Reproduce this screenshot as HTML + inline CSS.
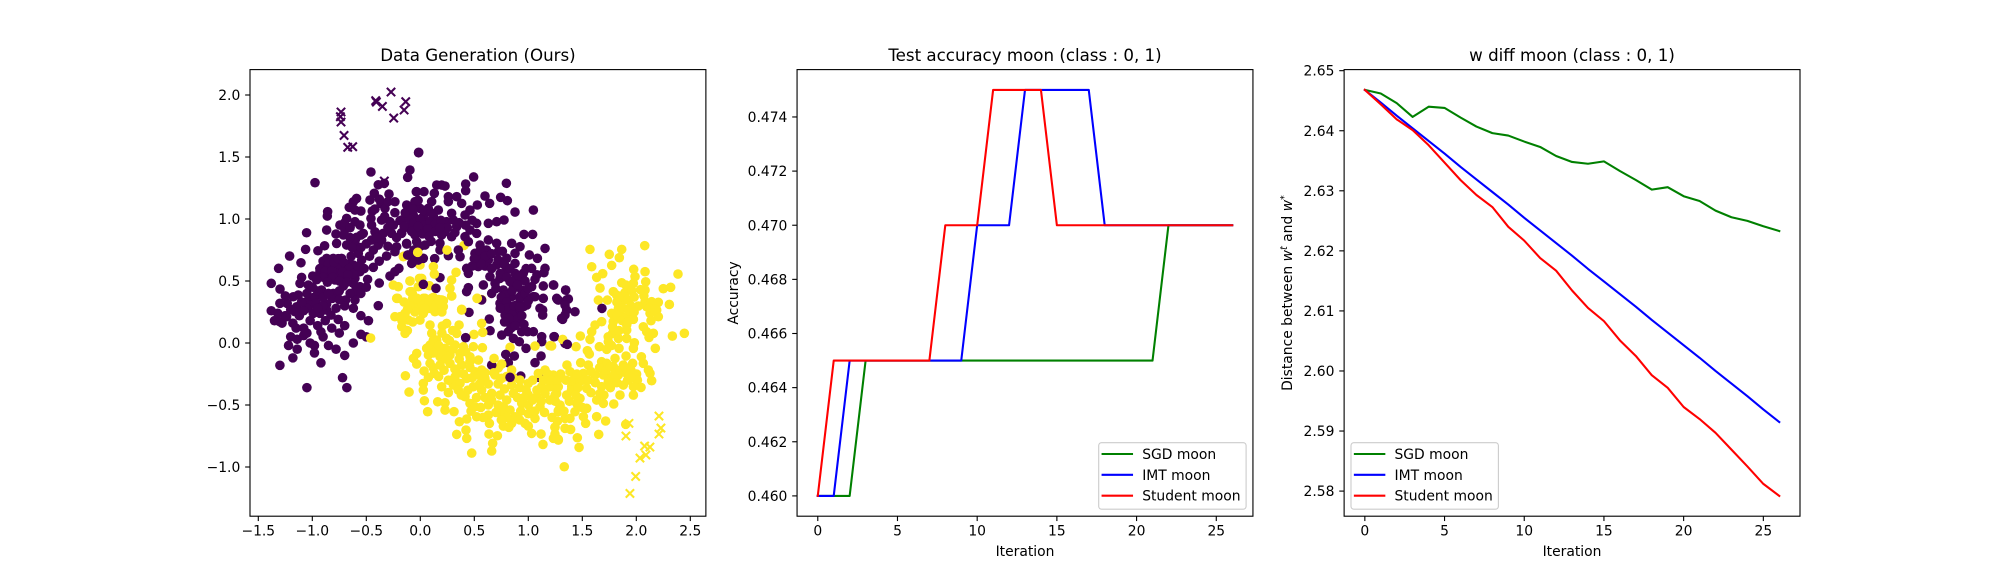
<!DOCTYPE html>
<html>
<head>
<meta charset="utf-8">
<title>Moon data charts</title>
<style>
html,body{margin:0;padding:0;background:#fff;}
svg{display:block;}
text{font-family:"DejaVu Sans",sans-serif;fill:#000;}
</style>
</head>
<body>
<svg id="figure" xmlns="http://www.w3.org/2000/svg" width="2000" height="580" viewBox="0 0 2000 580"></svg>
<script>
/* ---------- chart data ---------- */
const iterations = [0,1,2,3,4,5,6,7,8,9,10,11,12,13,14,15,16,17,18,19,20,21,22,23,24,25,26];

const accSgd = [0.46,0.46,0.46,0.465,0.465,0.465,0.465,0.465,0.465,0.465,0.465,0.465,0.465,0.465,0.465,0.465,0.465,0.465,0.465,0.465,0.465,0.465,0.47,0.47,0.47,0.47,0.47];
const accImt = [0.46,0.46,0.465,0.465,0.465,0.465,0.465,0.465,0.465,0.465,0.47,0.47,0.47,0.475,0.475,0.475,0.475,0.475,0.47,0.47,0.47,0.47,0.47,0.47,0.47,0.47,0.47];
const accStudent = [0.46,0.465,0.465,0.465,0.465,0.465,0.465,0.465,0.47,0.47,0.47,0.475,0.475,0.475,0.475,0.47,0.47,0.47,0.47,0.47,0.47,0.47,0.47,0.47,0.47,0.47,0.47];

const diffSgd = [2.6468,2.6462,2.6446,2.6423,2.6440,2.6438,2.6422,2.6407,2.6396,2.6392,2.6382,2.6373,2.6358,2.6348,2.6345,2.6349,2.6333,2.6318,2.6302,2.6306,2.6291,2.6283,2.6267,2.6256,2.6250,2.6241,2.6233];
const diffImt = [2.6468,2.6447,2.6425,2.6404,2.6383,2.6362,2.6340,2.6319,2.6298,2.6277,2.6255,2.6234,2.6213,2.6192,2.6170,2.6149,2.6128,2.6107,2.6085,2.6064,2.6043,2.6022,2.6000,2.5979,2.5958,2.5936,2.5915];
const diffStudent = [2.6468,2.6444,2.6419,2.6401,2.6376,2.6347,2.6318,2.6293,2.6273,2.6240,2.6217,2.6188,2.6167,2.6134,2.6105,2.6083,2.6051,2.6025,2.5993,2.5972,2.5940,2.5920,2.5897,2.5869,2.5841,2.5812,2.5792];

const scatterXTicks = [-1.5,-1.0,-0.5,0.0,0.5,1.0,1.5,2.0,2.5];
const scatterYTicks = [-1.0,-0.5,0.0,0.5,1.0,1.5,2.0];
const iterTicks = [0,5,10,15,20,25];
const accTicks = [0.460,0.462,0.464,0.466,0.468,0.470,0.472,0.474];
const diffTicks = [2.58,2.59,2.60,2.61,2.62,2.63,2.64,2.65];

const legendLabels = ["SGD moon","IMT moon","Student moon"];

const yellowBehind = [[0.405,0.787],[-0.157,0.696],[-0.151,0.7],[-0.003,0.629],[0.084,0.462],[0.568,0.35],[0.723,-0.2]];

const purpleDots = [
[-0.975,1.293],[-0.457,1.379],[-0.096,1.395],[-0.117,1.336],[-0.016,1.534],[-0.389,1.276],[-0.333,1.287],[-0.290,1.201],[-0.426,1.207],[-0.466,1.153],[-0.364,1.126],[-0.235,1.139],[-0.590,1.166],[-0.620,1.139],[-0.658,1.094],[-0.858,1.059],[-0.861,1.024],[-0.550,1.064],[-0.605,1.072],[-0.445,1.064],[-0.327,1.086],[-0.235,1.051],[-0.457,1.005],[-0.188,0.986],
[-0.682,1.005],[-0.605,0.978],[-0.744,0.951],[-0.698,0.911],[-0.559,0.951],[-0.528,0.884],[-0.781,0.879],[-0.713,0.871],[-0.590,0.852],[-0.605,0.817],[-0.775,0.803],[-0.682,0.790],[-0.867,0.911],[-1.053,0.889],[-0.886,0.784],[-0.948,0.744],[-1.062,0.755],[-1.210,0.701],[-1.105,0.647],[-1.312,0.602],[-1.380,0.481],[-1.299,0.435],[-0.435,0.610],[-0.559,0.575],[-0.488,0.513],[-0.380,0.483],[-0.389,0.301],[-0.281,0.540],[-0.235,0.575],[-0.198,0.602],[-0.312,0.701],[-0.435,0.750],[-0.389,0.790],[-0.358,0.830],[-0.451,0.830],[-0.420,0.897],[-0.343,0.884],[-0.266,0.884],[-0.281,0.978],[-0.358,0.991],[-0.451,0.951],[-0.173,0.884],[-0.219,0.776],[-0.235,0.736],[-0.127,0.803],[-0.117,0.709],[-0.080,0.642],[-0.019,0.669],[-0.111,0.938],[-0.080,1.099],[-0.034,1.220],
[-0.867,0.682],[-0.806,0.682],[-0.729,0.682],[-0.651,0.642],[-0.574,0.723],[-0.543,0.669],[-0.898,0.629],[-0.836,0.615],[-0.759,0.629],[-0.682,0.602],[-0.929,0.575],[-0.852,0.548],[-0.775,0.561],[-0.698,0.534],[-0.620,0.629],[-0.605,0.521],[-0.790,0.508],[-0.713,0.459],[-0.996,0.540],[-1.099,0.529],[-1.114,0.481],[-1.037,0.467],[-0.914,0.427],[-0.620,0.481],[-0.559,0.454],[-0.605,0.414],[-0.806,0.400],[-0.815,0.360],[-0.692,0.346],[-0.605,0.346],[-1.130,0.387],[-1.176,0.373],[-1.232,0.319],[-1.145,0.292],[-1.161,0.252],[-1.037,0.346],[-0.975,0.373],[-1.022,0.306],[-0.960,0.319],[-0.867,0.314],[-0.867,0.266],[-0.991,0.239],[-0.929,0.239],[-0.827,0.225],[-1.238,0.212],[-1.300,0.172],
[-1.35,0.18],[-1.28,0.16],[-1.25,0.22],[-1.18,0.16],[-1.12,0.22],[-1.08,0.12],[-1.02,0.18],[-0.95,0.14],[-0.88,0.18],[-0.82,0.12],[-0.76,0.19],[-0.7,0.14],[-1.2,0.05],[-1.14,0.03],[-1.08,0.06],[-1.02,0.0],[-1.14,-0.05],[-1.22,-0.02],[-0.9,0.05],[-0.85,-0.02],[-0.75,0.08],[-0.78,-0.05],[-1.18,-0.12],[-0.98,-0.08],[-0.92,-0.16],[-0.7,-0.1],[-0.72,-0.28],[-0.68,-0.36],[-1.3,-0.18],[-1.05,-0.36],[-0.55,0.07],[-0.5,0.05],[-0.62,0.0],[-0.62,0.28],[-0.55,0.22],[-0.48,0.18],[-1.05,0.28],[-0.9,0.3],[-0.78,0.28],[-0.98,-0.02],[-1.3,0.32],[-1.38,0.26],
[-0.015,1.538],[0.494,1.339],[0.797,1.288],[0.198,1.274],[0.152,1.274],[0.229,1.266],[0.420,1.282],[0.420,1.228],[-0.037,1.220],[0.034,1.220],[0.130,1.207],[0.599,1.185],[0.642,1.126],[0.744,1.175],[0.806,1.148],[0.877,1.056],[1.047,1.072],[0.260,1.180],[0.337,1.180],[0.260,1.140],[0.383,1.126],[0.528,1.113],[0.460,1.072],[-0.126,1.113],[-0.049,1.140],[0.105,1.140],[-0.111,1.059],[-0.003,1.086],[0.074,1.086],[0.167,1.072],[-0.065,1.032],[0.028,1.019],[0.121,1.019],[0.290,1.046],[0.414,1.032],[-0.173,0.992],[-0.034,0.978],[0.059,0.965],[0.244,0.978],[0.306,0.992],[0.522,0.965],[0.630,0.965],[0.707,0.978],[0.775,0.992],[-0.111,0.933],[-0.003,0.911],[0.121,0.925],[0.229,0.898],[0.337,0.938],[0.460,0.911],[0.522,0.884],[-0.173,0.890],[-0.049,0.871],[0.198,0.871],[0.290,0.857],[0.414,0.857],[-0.126,0.798],[-0.034,0.817],[0.044,0.790],[0.182,0.804],[0.445,0.817],[0.960,0.876],[1.040,0.876],[0.630,0.831],[0.553,0.790],[0.707,0.804],[0.846,0.804],[0.923,0.777],[1.155,0.763],[-0.111,0.710],[-0.034,0.696],[0.028,0.683],[-0.074,0.648],[0.182,0.750],[0.260,0.704],[0.133,0.680],[0.352,0.750],[0.368,0.696],[0.506,0.723],[0.614,0.750],[0.722,0.737],[0.877,0.723],[1.010,0.710],[1.084,0.683],[0.429,0.602],[0.445,0.562],[0.553,0.696],[0.537,0.616],[0.630,0.669],[0.707,0.629],[0.800,0.683],[0.877,0.642],[1.031,0.602],[1.155,0.602],[1.145,0.567],[0.954,0.562],[0.877,0.562],[0.800,0.589],[0.645,0.535],[0.738,0.521],[1.062,0.513],[0.584,0.468],[0.692,0.481],[0.831,0.495],[0.923,0.508],[0.182,0.527],[0.145,0.441],[0.445,0.446],[0.429,0.414],[0.661,0.400],[0.769,0.427],[0.861,0.441],[0.938,0.427],[1.031,0.454],[1.139,0.460],[1.232,0.468],[1.346,0.427],[0.738,0.320],[0.846,0.374],[0.923,0.360],[1.047,0.374],[1.139,0.360],[1.263,0.360],[1.355,0.347],[0.892,0.306],[0.985,0.306],[1.108,0.280],[0.568,0.347],
[0.785,0.387],[0.923,0.373],[1.062,0.373],[1.278,0.346],[0.451,0.247],[0.639,0.193],[0.646,0.099],[0.754,0.064],[0.785,0.225],[0.831,0.266],[0.877,0.212],[0.831,0.158],[0.908,0.252],[0.954,0.293],[0.815,0.091],[0.862,0.037],[0.917,0.010],[0.979,-0.043],[0.939,0.091],[0.994,0.091],[1.047,0.091],[1.124,0.051],[1.124,0.010],[1.241,0.051],[1.133,0.266],[1.133,0.225],[1.309,0.198],[1.340,-0.003],[1.118,-0.105],[1.062,-0.159],[0.815,-0.159],[0.930,-0.267],[1.099,-0.277],[0.661,-0.178],
[1.235,0.467],[1.346,0.427],[1.269,0.352],[1.371,0.355],[1.340,0.306],[1.355,0.266],[1.432,0.252],[1.340,0.226],[1.318,0.191]
];

const purpleDense = [
[-0.9,0.66],[-0.85,0.64],[-0.8,0.65],[-0.76,0.68],[-0.71,0.65],[-0.66,0.6],[-0.62,0.56],[-0.93,0.6],[-0.88,0.58],[-0.82,0.58],[-0.72,0.57],[-0.67,0.55],[-0.9,0.53],[-0.81,0.53],[-0.75,0.5],[-0.68,0.49],[-0.96,0.51],[-0.86,0.49],[-0.58,0.62],[-0.64,0.7],[-0.52,0.6],
[-0.1,1.0],[-0.06,0.97],[0.0,1.0],[0.04,0.95],[0.09,0.98],[0.14,0.96],[-0.08,0.9],[-0.02,0.94],[0.02,0.88],[0.07,0.92],[-0.14,1.05],[-0.07,1.08],[0.03,1.07],[0.1,1.05],[0.19,0.99],[0.25,0.93],[0.32,0.89],[0.36,0.97],[0.42,0.95],[0.48,0.99],[-0.02,1.15],[0.08,0.86],[0.14,0.9],[0.18,0.93],[-0.15,0.94],[0.0,0.78],[-0.06,0.75],[0.1,0.82],
[0.55,0.74],[0.6,0.7],[0.66,0.72],[0.6,0.62],[0.66,0.6],[0.72,0.67],[0.78,0.63],[0.83,0.6],[0.74,0.56],[0.8,0.53],[0.86,0.5],[0.91,0.54],[0.97,0.5],[0.7,0.44],[0.75,0.37],[0.8,0.33],[0.85,0.42],[0.97,0.4],[1.0,0.44],[0.56,0.64],[0.5,0.68],[0.76,0.74],[0.98,0.6],[1.08,0.55],[0.48,0.62],[0.9,0.47],[1.0,0.34],
[0.8,0.28],[0.85,0.23],[0.9,0.19],[0.82,0.2],[0.87,0.3],[0.92,0.29],[0.78,0.17],[0.84,0.12],[0.88,0.14],[0.94,0.22],[0.74,0.28],[0.96,0.15],
[-0.7,0.97],[-0.65,0.93],[-0.65,0.85],[-0.55,0.87],[-0.5,0.8],[-0.63,0.77],[-0.55,0.77],[-0.4,0.85],[-0.3,0.93],[-0.25,0.95],[-0.33,1.02],[-0.42,1.08],[-0.38,1.16],[-0.3,1.14],[-0.47,0.7],[-0.38,0.66],[-0.3,0.78],[-0.22,0.85],
[-1.1,0.33],[-1.05,0.4],[-0.95,0.42],[-0.9,0.37],[-1.08,0.26],[-0.95,0.28],[-0.85,0.4],[-0.75,0.42],[-0.65,0.4],[-0.7,0.3],[-1.2,0.27],[-1.15,0.12],[-1.05,0.08],[-0.92,0.09],[-0.75,0.35],[-0.55,0.4],[-0.5,0.45],[-1.0,0.45],[-1.25,0.38],[-1.32,0.24]
];

const yellowDots = [
[1.571,0.755],[1.750,0.715],[1.865,0.755],[1.843,0.688],[2.078,0.785],[1.587,0.615],[1.772,0.626],[1.633,0.529],[1.689,0.559],[1.976,0.594],[2.081,0.575],[1.988,0.535],[2.386,0.556],[1.865,0.486],[2.087,0.494],[1.973,0.481],[1.905,0.467],[1.664,0.443],[2.081,0.427],[2.250,0.438],[2.318,0.449],[1.787,0.414],[1.895,0.406],[1.818,0.387],[1.649,0.346],[1.732,0.346],[1.865,0.333],[2.081,0.333],[2.142,0.333],[2.204,0.328],[2.306,0.311],[2.019,0.298],[2.096,0.293],[1.834,0.279],[2.189,0.266],[1.772,0.239],[1.849,0.226],[1.911,0.212],[1.973,0.191],[2.127,0.239],[2.204,0.212],[2.136,0.180],[1.679,0.172],[1.618,0.145],[1.787,0.172],[1.911,0.145],[2.065,0.131],[1.587,0.091],[1.911,0.104],[2.096,0.091],[2.158,0.078],[2.118,0.045],[1.571,0.029],[1.911,0.037],[2.334,0.056],[2.445,0.078],[1.781,0.078],[1.834,0.037],[1.741,0.010],[1.482,0.056],[1.318,0.029],[1.658,-0.030],[1.442,-0.030],[1.216,-0.024],[1.726,-0.051],[1.840,-0.043],[1.982,0.002],[1.973,-0.043],[2.176,-0.043],[1.547,-0.062],[1.565,-0.089],[2.047,-0.111],[1.905,-0.105],[1.679,-0.151],[1.726,-0.164],[1.803,-0.124],[2.065,-0.164],[1.358,-0.178],[1.485,-0.159],[1.556,-0.178],[1.966,-0.164],[1.880,-0.178],[1.787,-0.191],[2.127,-0.245],[2.112,-0.218],[2.142,-0.304],[1.386,-0.231],[1.510,-0.245],[1.618,-0.258],[1.695,-0.258],[1.772,-0.272],[1.834,-0.258],[1.911,-0.245],[2.003,-0.250],[1.232,-0.264],[1.417,-0.299],[1.479,-0.312],[1.741,-0.312],[2.010,-0.299],[1.679,-0.352],[1.880,-0.339],[2.044,-0.358],[1.973,-0.352],[1.232,-0.352],[1.402,-0.352],[1.541,-0.366],[1.664,-0.406],[1.849,-0.420],[1.973,-0.420],[1.263,-0.406],[1.355,-0.420],[1.479,-0.447],[1.633,-0.460],[1.791,-0.492],[1.695,-0.487],[1.294,-0.500],[1.448,-0.487],[1.541,-0.527],[1.278,-0.554],[1.432,-0.554],[1.510,-0.594],[1.633,-0.594],[1.340,-0.608],[1.386,-0.608],[1.716,-0.629],[1.531,-0.648],[1.902,-0.656],[1.247,-0.680],[1.340,-0.688],[1.392,-0.697],[1.652,-0.737],[1.247,-0.734],[1.278,-0.777],[1.454,-0.764],[1.470,-0.842],[1.333,-0.998],
[-0.074,0.400],[-0.209,0.360],[0.044,0.360],[0.121,0.368],[0.214,0.341],[0.183,0.293],[0.291,0.379],[0.528,0.360],[0.383,0.266],[-0.033,0.293],[0.075,0.279],[0.028,0.239],[0.136,0.252],[-0.141,0.239],[-0.188,0.212],[-0.111,0.185],[-0.003,0.185],[-0.172,0.131],[-0.141,0.078],[0.090,0.145],[0.244,0.158],[0.359,0.145],[0.204,0.137],[0.568,0.158],[0.497,0.069],[0.578,0.086],[0.106,0.078],[0.152,0.024],[0.244,0.037],[0.337,0.078],[0.322,-0.017],[0.059,-0.043],[-0.033,-0.084],[-0.064,-0.124],[-0.033,-0.170],[0.090,-0.017],[0.152,-0.057],[0.229,-0.043],[0.399,-0.030],[0.491,-0.030],[0.575,-0.038],[0.831,-0.035],[1.062,-0.025],[1.201,-0.022],[0.075,-0.097],[0.183,-0.111],[0.275,-0.097],[0.368,-0.084],[0.460,-0.111],[0.538,-0.138],[0.090,-0.164],[0.183,-0.178],[0.275,-0.164],[0.383,-0.178],[0.460,-0.197],[0.035,-0.226],[0.130,-0.245],[0.075,-0.277],[-0.138,-0.264],[-0.104,-0.396],[0.028,-0.326],[0.028,-0.380],[0.038,-0.466],[0.198,-0.353],[0.161,-0.474],[0.229,-0.482],[0.229,-0.541],[0.068,-0.554],[0.312,-0.554],[0.322,-0.272],[0.306,-0.339],[0.368,-0.326],[0.430,-0.285],[0.507,-0.232],[0.568,-0.218],[0.683,-0.124],[0.754,-0.170],[0.846,-0.218],[0.599,-0.285],[0.692,-0.258],[0.754,-0.285],[0.846,-0.339],[0.923,-0.299],[1.000,-0.326],[1.155,-0.218],[1.232,-0.258],[1.093,-0.245],[1.124,-0.353],[1.201,-0.353],[1.278,-0.353],[0.352,-0.380],[0.414,-0.433],[0.491,-0.353],[0.568,-0.380],[0.661,-0.406],[0.738,-0.420],[0.862,-0.406],[1.000,-0.420],[1.078,-0.433],[1.155,-0.406],[1.247,-0.420],[0.460,-0.487],[0.507,-0.514],[0.630,-0.500],[0.769,-0.514],[0.831,-0.541],[0.939,-0.487],[1.000,-0.500],[1.108,-0.514],[1.294,-0.514],[0.754,-0.568],[0.877,-0.595],[0.522,-0.595],[0.630,-0.581],[1.278,-0.546],[1.062,-0.608],[0.430,-0.613],[0.362,-0.635],[0.640,-0.648],[0.769,-0.670],[0.846,-0.648],[0.970,-0.648],[1.247,-0.680],[0.423,-0.702],[0.430,-0.769],[0.337,-0.737],[0.636,-0.734],[0.714,-0.748],[1.031,-0.729],[1.118,-0.734],[1.232,-0.769],[1.278,-0.783],[1.136,-0.818],[0.670,-0.809],[0.661,-0.871],[0.476,-0.888],
[-0.024,0.731],[0.247,0.750],[0.121,0.616],[0.130,0.556],[0.331,0.570],[0.290,0.508],[0.275,0.441],[0.290,0.379],[-0.095,0.500],[0.013,0.521],[-0.018,0.454],[-0.095,0.414],[-0.071,0.360],[0.028,0.360],[0.105,0.360],[0.198,0.347],[0.525,0.360],[0.383,0.272],[-0.003,0.293],[0.121,0.306],[0.213,0.293],[-0.065,0.293],[-0.250,0.467],[-0.204,0.454],[-0.096,0.500],[-0.219,0.360],[-0.080,0.414],[-0.008,0.521],[-0.065,0.346],[-0.142,0.239],[-0.235,0.212],[-0.050,0.279],[-0.46,0.04]
];

const yellowDense = [
[-0.15,0.33],[-0.1,0.3],[-0.05,0.25],[0.02,0.31],[0.08,0.33],[0.15,0.31],[0.12,0.27],[0.2,0.25],[-0.17,0.18],[-0.12,0.1],[-0.07,0.17],[0.04,0.28],[-0.03,0.36],[-0.12,0.27],[0.17,0.35],
[0.12,0.02],[0.17,-0.02],[0.2,0.08],[0.27,0.02],[0.3,0.1],[0.12,-0.08],[0.2,-0.09],[0.3,-0.05],[0.24,-0.13],[0.36,-0.13],[0.42,-0.07],[0.32,-0.21],[0.12,-0.2],[0.22,-0.22],[0.17,-0.27],[0.26,-0.3],[0.34,-0.24],[0.4,-0.25],[0.48,-0.28],[0.46,-0.15],[0.54,-0.26],[0.6,-0.24],[0.55,-0.33],[0.63,-0.33],[0.72,-0.33],[0.68,-0.24],[0.8,-0.27],[0.78,-0.37],[0.86,-0.28],[0.92,-0.36],[0.98,-0.38],[1.04,-0.3],[1.08,-0.38],[1.14,-0.3],[1.18,-0.25],[1.21,-0.3],[1.27,-0.3],[0.26,-0.4],[0.38,-0.42],[0.44,-0.38],[0.52,-0.44],[0.6,-0.44],[0.66,-0.46],[0.72,-0.5],[0.8,-0.46],[0.9,-0.44],[0.96,-0.44],[1.04,-0.46],[1.12,-0.47],[1.2,-0.46],[1.25,-0.47],[0.47,-0.55],[0.56,-0.52],[0.58,-0.6],[0.7,-0.56],[0.8,-0.6],[0.93,-0.55],[1.0,-0.57],[1.06,-0.55],[1.15,-0.56],[1.22,-0.6],[0.82,-0.68],[0.75,-0.62],[0.92,-0.62],[1.0,-0.67],[1.27,-0.63],
[1.3,-0.25],[1.35,-0.3],[1.4,-0.38],[1.46,-0.36],[1.5,-0.3],[1.55,-0.3],[1.58,-0.23],[1.62,-0.32],[1.66,-0.2],[1.72,-0.22],[1.76,-0.19],[1.8,-0.25],[1.85,-0.22],[1.9,-0.2],[1.95,-0.22],[1.45,-0.25],[1.38,-0.47],[1.44,-0.42],[1.5,-0.52],[1.33,-0.55],[1.58,-0.4],[1.7,-0.42],[1.76,-0.36],[1.82,-0.32],[1.92,-0.3],[1.95,-0.28],
[1.82,0.33],[1.87,0.38],[1.92,0.35],[1.95,0.3],[1.88,0.28],[1.93,0.26],[1.82,0.22],[1.98,0.25],[1.96,0.42],[1.87,0.18],[1.92,0.17],[1.78,0.13],[1.84,0.1],[1.74,0.05],[1.77,-0.02],[2.12,0.28],[2.17,0.27],[2.07,0.38],[2.04,0.43],[1.98,0.37]
];

const purpleOnTop = [[0.420,0.043],[0.028,0.473],[1.682,0.279],[1.361,-0.011],[0.791,-0.092],[0.871,-0.105],[0.831,-0.277],[1.238,0.051]];

const purpleCrosses = [[-0.734,1.863],[-0.740,1.825],[-0.734,1.782],[-0.706,1.674],[-0.672,1.578],[-0.626,1.583],[-0.413,1.954],[-0.407,1.943],[-0.351,1.908],[-0.271,2.024],[-0.246,1.814],[-0.150,1.879],[-0.135,1.946],[-0.333,1.306]];
const yellowCrosses = [[2.210,-0.589],[2.228,-0.686],[2.210,-0.734],[1.904,-0.750],[1.932,-0.648],[2.077,-0.831],[2.126,-0.839],[2.089,-0.903],[2.034,-0.928],[1.994,-1.076],[1.941,-1.213]];

/* ---------- helpers ---------- */
const NS = "http://www.w3.org/2000/svg";
const fig = document.getElementById("figure");
function node(parent, tag, attrs, text){
  const el = document.createElementNS(NS, tag);
  for (const k in attrs) el.setAttribute(k, attrs[k]);
  if (text !== undefined) el.textContent = text;
  parent.appendChild(el);
  return el;
}
function scale(d0, d1, r0, r1){
  return v => r0 + (v - d0) * (r1 - r0) / (d1 - d0);
}
const TOP = 69.6, BOTTOM = 516.2;
function minus(s){ return s.replace("-", "\u2212"); }

function drawFrame(g, left, right, xS, yS, xT, yT, xFmt, yFmt){
  const box = node(g, "rect", {x:left, y:TOP, width:right-left, height:BOTTOM-TOP, fill:"none", stroke:"#000", "stroke-width":1.11});
  
  
  xT.forEach(v => {
    const px = xS(v);
    const t = node(g, "line", {x1:px, x2:px, y1:BOTTOM, y2:BOTTOM+4.86, stroke:"#000", "stroke-width":1.11});
    
    
    const l = node(g, "text", {x:px, y:535.5, "text-anchor":"middle", "font-size":13.89}, minus(xFmt(v)));
    
    
  });
  yT.forEach(v => {
    const py = yS(v);
    const t = node(g, "line", {x1:left-4.86, x2:left, y1:py, y2:py, stroke:"#000", "stroke-width":1.11});
    
    
    const l = node(g, "text", {x:left-9.7, y:py+5.05, "text-anchor":"end", "font-size":13.89}, minus(yFmt(v)));
    
    
  });
}
function drawLine(g, xs, ys, xS, yS, color){
  const pts = xs.map((v,i) => xS(v).toFixed(2) + "," + yS(ys[i]).toFixed(2)).join(" ");
  return node(g, "polyline", {points:pts, fill:"none", stroke:color, "stroke-width":2.08, "stroke-linejoin":"round", "stroke-linecap":"square"});
}
function drawLegend(g, left){
  const colors = ["#008000","#0000ff","#ff0000"];
  const frame = node(g, "rect", {x:left, y:442.7, width:147.4, height:66.5, rx:2.8, fill:"#fff", "fill-opacity":0.8, stroke:"#ccc", "stroke-width":1.11});
  
  
  legendLabels.forEach((label,i) => {
    const y = 454 + i*20.85;
    const h = node(g, "line", {x1:left+3.9, x2:left+33.3, y1:y, y2:y, stroke:colors[i], "stroke-width":2.08, "stroke-linecap":"square"});
    
    
    const t = node(g, "text", {x:left+43.5, y:y+5, "font-size":13.89}, label);
    
    
  });
}

/* ---------- chart 1: scatter ---------- */
(function(){
  const g = node(fig, "g", {});
  
  
  const xS = scale(-1.5, 2.5, 258.3, 690.3);
  const yS = scale(-1.0, 2.0, 467, 95);
  const PURPLE = "#440154", YELLOW = "#fde725";
  function dots(arr, color){
    arr.forEach(p => {
      const c = node(g, "circle", {cx:xS(p[0]).toFixed(2), cy:yS(p[1]).toFixed(2), r:4.8, fill:color});
      
      
    });
  }
  function crosses(arr, color){
    arr.forEach(p => {
      const x = xS(p[0]), y = yS(p[1]), r = 4.17;
      const m = node(g, "path", {d:`M${x-r} ${y-r}L${x+r} ${y+r}M${x-r} ${y+r}L${x+r} ${y-r}`, fill:"none", stroke:color, "stroke-width":2.08});
      
      
    });
  }
  crosses(purpleCrosses, PURPLE);
  crosses(yellowCrosses, YELLOW);
  dots(yellowBehind, YELLOW);
  dots(purpleDots, PURPLE);
  dots(purpleDense, PURPLE);
  dots(yellowDots, YELLOW);
  dots(yellowDense, YELLOW);
  dots(purpleOnTop, PURPLE);
  drawFrame(g, 250, 705.88, xS, yS, scatterXTicks, scatterYTicks, v=>v.toFixed(1), v=>v.toFixed(1));
  const title = node(g, "text", {x:477.94, y:61, "text-anchor":"middle", "font-size":16.67}, "Data Generation (Ours)");
  
  
})();

/* ---------- chart 2: accuracy ---------- */
(function(){
  const g = node(fig, "g", {});
  
  
  const xS = scale(-1.3, 27.3, 797.06, 1252.94);
  const yS = scale(0.46, 0.475, 495.9, 89.9);
  const a = drawLine(g, iterations, accSgd, xS, yS, "#008000");
  
  
  const b = drawLine(g, iterations, accImt, xS, yS, "#0000ff");
  
  
  const c = drawLine(g, iterations, accStudent, xS, yS, "#ff0000");
  
  
  drawFrame(g, 797.06, 1252.94, xS, yS, iterTicks, accTicks, v=>String(v), v=>v.toFixed(3));
  const title = node(g, "text", {x:1025, y:61, "text-anchor":"middle", "font-size":16.67}, "Test accuracy moon (class : 0, 1)");
  
  
  const xl = node(g, "text", {x:1025, y:556, "text-anchor":"middle", "font-size":13.89}, "Iteration");
  
  
  const yl = node(g, "text", {x:0, y:0, transform:"translate(738,293) rotate(-90)", "text-anchor":"middle", "font-size":13.89}, "Accuracy");
  
  
  drawLegend(g, 1098.7);
})();

/* ---------- chart 3: w diff ---------- */
(function(){
  const g = node(fig, "g", {});
  
  
  const xS = scale(-1.3, 27.3, 1344.12, 1800);
  const yS = scale(2.6468, 2.5792, 89.9, 495.9);
  const a = drawLine(g, iterations, diffSgd, xS, yS, "#008000");
  
  
  const b = drawLine(g, iterations, diffImt, xS, yS, "#0000ff");
  
  
  const c = drawLine(g, iterations, diffStudent, xS, yS, "#ff0000");
  
  
  drawFrame(g, 1344.12, 1800, xS, yS, iterTicks, diffTicks, v=>String(v), v=>v.toFixed(2));
  const title = node(g, "text", {x:1572, y:61, "text-anchor":"middle", "font-size":16.67}, "w diff moon (class : 0, 1)");
  
  
  const xl = node(g, "text", {x:1572, y:556, "text-anchor":"middle", "font-size":13.89}, "Iteration");
  
  
  const yl = node(g, "text", {x:0, y:0, transform:"translate(1292,293) rotate(-90)", "text-anchor":"middle", "font-size":13.89});
  
  
  node(yl, "tspan", {}, "Distance between ");
  node(yl, "tspan", {"font-style":"italic"}, "w");
  node(yl, "tspan", {"font-size":9.7, dy:-5, "font-style":"italic"}, "t");
  node(yl, "tspan", {dy:5}, " and ");
  node(yl, "tspan", {"font-style":"italic"}, "w");
  node(yl, "tspan", {"font-size":9.7, dy:-5}, "*");
  drawLegend(g, 1351);
})();
</script>
</body>
</html>
